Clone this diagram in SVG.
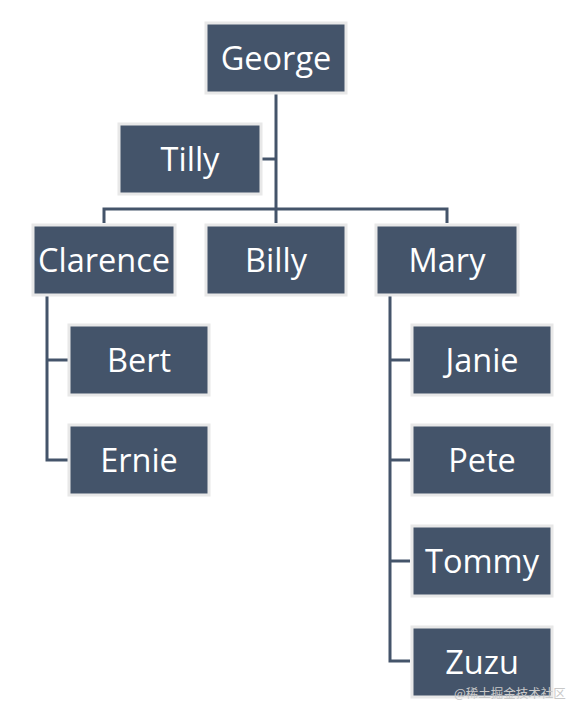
<svg xmlns="http://www.w3.org/2000/svg" width="583" height="717" viewBox="0 0 583 717">
<style>
.box{fill:#44546a;stroke:#e8e8e8;stroke-width:3}
.lbl{fill:#ffffff;font-family:"Open Sans","Noto Sans",sans-serif;font-size:32.5px;text-anchor:middle}
.ln{fill:none;stroke:#44546a;stroke-width:3}
</style>
<rect width="583" height="717" fill="#ffffff"/>
<g id="connectors">
<path class="ln" d="M276 94V209"/>
<path class="ln" d="M262 159H276"/>
<path class="ln" d="M104 223V209H447V223"/>
<path class="ln" d="M276 209V223"/>
<path class="ln" d="M47 296V460H68"/>
<path class="ln" d="M47 360H68"/>
<path class="ln" d="M390 296V661H410"/>
<path class="ln" d="M390 360H410"/>
<path class="ln" d="M390 460H410"/>
<path class="ln" d="M390 561H410"/>
</g>
<g id="george"><rect class="box" x="206" y="23" width="140" height="70"/><text class="lbl" x="276" y="70">George</text></g>
<g id="tilly"><rect class="box" x="119" y="124" width="142" height="70"/><text class="lbl" x="190" y="171">Tilly</text></g>
<g id="clarence"><rect class="box" x="33" y="225" width="142" height="70"/><text class="lbl" x="104" y="272">Clarence</text></g>
<g id="billy"><rect class="box" x="206" y="225" width="140" height="70"/><text class="lbl" x="276" y="272">Billy</text></g>
<g id="mary"><rect class="box" x="376" y="225" width="142" height="70"/><text class="lbl" x="447" y="272">Mary</text></g>
<g id="bert"><rect class="box" x="69" y="325" width="140" height="70"/><text class="lbl" x="139" y="372">Bert</text></g>
<g id="ernie"><rect class="box" x="69" y="425" width="140" height="70"/><text class="lbl" x="139" y="472">Ernie</text></g>
<g id="janie"><rect class="box" x="412" y="325" width="140" height="70"/><text class="lbl" x="482" y="372">Janie</text></g>
<g id="pete"><rect class="box" x="412" y="425" width="140" height="70"/><text class="lbl" x="482" y="472">Pete</text></g>
<g id="tommy"><rect class="box" x="412" y="526" width="140" height="70"/><text class="lbl" x="482" y="573">Tommy</text></g>
<g id="zuzu"><rect class="box" x="412" y="627" width="140" height="70"/><text class="lbl" x="482" y="674">Zuzu</text></g>
<text x="454" y="698" fill="#c8c8c8" font-family="'Noto Sans CJK SC',sans-serif" font-size="12.5">@稀土掘金技术社区</text>
</svg>
